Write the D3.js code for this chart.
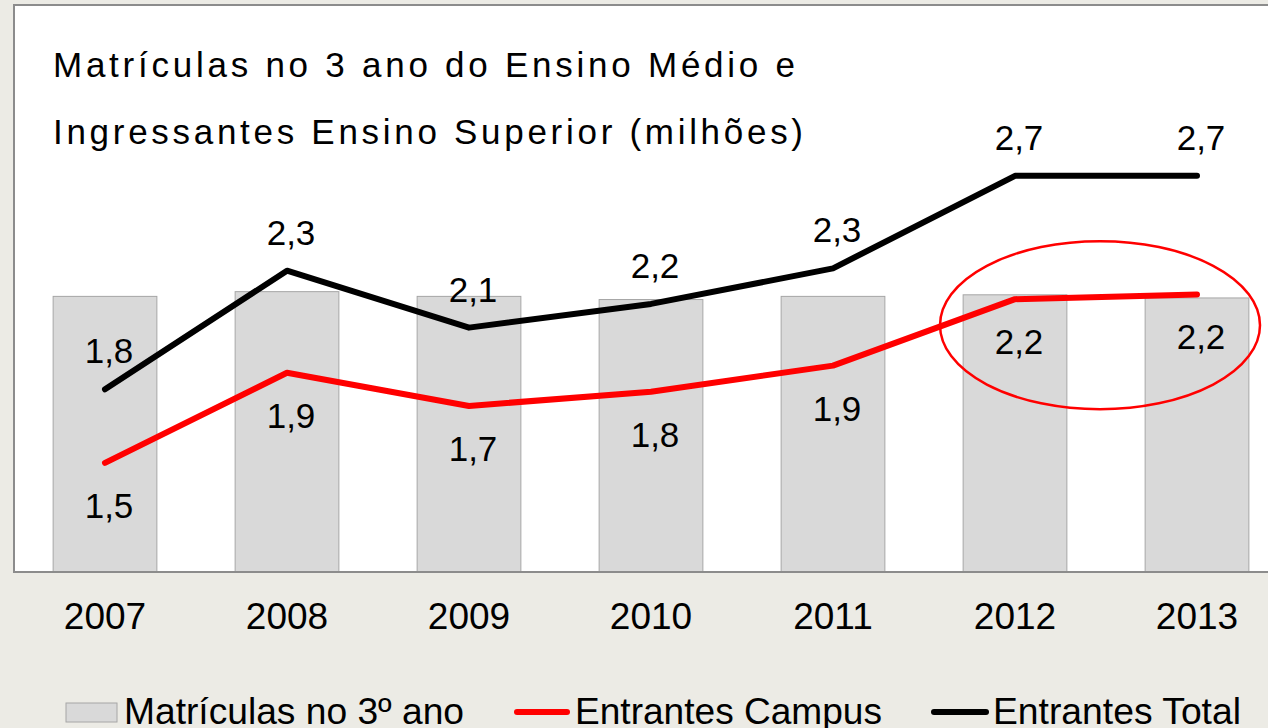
<!DOCTYPE html>
<html>
<head>
<meta charset="utf-8">
<script src="https://cdn.jsdelivr.net/npm/d3@7"></script>
<style>
  body { margin: 0; background: #ecebe5; }
  svg { display: block; font-family: "Liberation Sans", Arial, sans-serif; }
</style>
</head>
<body>
<div id="chart"></div>
<script>
// chart data
var years = ["2007", "2008", "2009", "2010", "2011", "2012", "2013"];
var matriculas = [1.75, 1.78, 1.75, 1.73, 1.75, 1.76, 1.74];
var entrantesTotal = [1.8, 2.3, 2.06, 2.16, 2.31, 2.7, 2.7];
var entrantesCampus = [1.49, 1.87, 1.73, 1.79, 1.9, 2.18, 2.2];
var titleLines = ["Matrículas no 3 ano do Ensino Médio e", "Ingressantes Ensino Superior (milhões)"];
var legendNames = ["Matrículas no 3º ano", "Entrantes Campus", "Entrantes Total"];

var svgWidth = 1268;
var svgHeight = 728;

// plot frame
var plot = { left: 14, top: 5, right: 1290, bottom: 572 };

var svg = d3.select("#chart")
  .append("svg")
  .attr("width", svgWidth)
  .attr("height", svgHeight);

svg.append("rect")
  .attr("width", svgWidth)
  .attr("height", svgHeight)
  .attr("fill", "#ecebe5");

svg.append("rect")
  .attr("x", plot.left)
  .attr("y", plot.top)
  .attr("width", plot.right - plot.left)
  .attr("height", plot.bottom - plot.top)
  .attr("fill", "#ffffff")
  .attr("stroke", "#8c8c8c")
  .attr("stroke-width", 2);

// scales
var xScale = d3.scaleBand()
  .domain(years)
  .range([plot.left, plot.left + 7 * 182])
  .paddingInner(0.43)
  .paddingOuter(0.215);

var barScale = d3.scaleLinear()
  .domain([0, 3.6])
  .range([plot.bottom, plot.top]);

var lineScale = d3.scaleLinear()
  .domain([1.03, 3.42])
  .range([plot.bottom, plot.top]);

var fmt = function (v) { return d3.format(".1f")(v).replace(".", ","); };
var cx = function (i) { return xScale(years[i]) + xScale.bandwidth() / 2; };

// bars
svg.selectAll("rect.bar")
  .data(matriculas)
  .enter()
  .append("rect")
  .attr("class", "bar")
  .attr("x", (d, i) => xScale(years[i]))
  .attr("y", d => barScale(d))
  .attr("width", xScale.bandwidth())
  .attr("height", d => plot.bottom - barScale(d))
  .attr("fill", "#d9d9d9")
  .attr("stroke", "#a6a6a6")
  .attr("stroke-width", 1);

// frame bottom on top of bars
svg.append("line")
  .attr("x1", plot.left).attr("x2", plot.right)
  .attr("y1", plot.bottom).attr("y2", plot.bottom)
  .attr("stroke", "#8c8c8c")
  .attr("stroke-width", 2);

// x axis labels
var xAxis = d3.axisBottom(xScale).tickSize(0).tickPadding(31);
var gx = svg.append("g")
  .attr("transform", `translate(0, ${plot.bottom})`)
  .call(xAxis);
gx.select(".domain").remove();
gx.selectAll("text")
  .attr("font-size", 37)
  .attr("font-family", "Liberation Sans, Arial, sans-serif")
  .attr("fill", "#000");

// lines
var line = d3.line()
  .x((d, i) => cx(i))
  .y(d => lineScale(d));

svg.append("path")
  .datum(entrantesTotal)
  .attr("d", line)
  .attr("fill", "none")
  .attr("stroke", "#000000")
  .attr("stroke-width", 6)
  .attr("stroke-linecap", "round")
  .attr("stroke-linejoin", "round");

svg.append("path")
  .datum(entrantesCampus)
  .attr("d", line)
  .attr("fill", "none")
  .attr("stroke", "#ff0000")
  .attr("stroke-width", 6)
  .attr("stroke-linecap", "round")
  .attr("stroke-linejoin", "round");

// value labels
svg.selectAll("text.totalLabel")
  .data(entrantesTotal)
  .enter()
  .append("text")
  .attr("x", (d, i) => cx(i) + 4)
  .attr("y", d => lineScale(d) - 26)
  .attr("text-anchor", "middle")
  .attr("font-size", 35)
  .text(d => fmt(d));

svg.selectAll("text.campusLabel")
  .data(entrantesCampus)
  .enter()
  .append("text")
  .attr("x", (d, i) => cx(i) + 4)
  .attr("y", d => lineScale(d) + 55)
  .attr("text-anchor", "middle")
  .attr("font-size", 35)
  .text(d => fmt(d));

// highlight ellipse around 2012-2013
svg.append("ellipse")
  .attr("cx", (cx(5) + cx(6)) / 2 - 6)
  .attr("cy", lineScale(entrantesCampus[5]) + 26)
  .attr("rx", 160)
  .attr("ry", 84)
  .attr("fill", "none")
  .attr("stroke", "#ff0000")
  .attr("stroke-width", 2.5);

// title
svg.selectAll("text.title")
  .data(titleLines)
  .enter()
  .append("text")
  .attr("x", 53)
  .attr("y", (d, i) => 77 + i * 67)
  .attr("font-size", 35)
  .attr("textLength", (d, i) => [742, 750][i])
  .attr("lengthAdjust", "spacing")
  .text(d => d);

// legend
var legend = svg.append("g");
legend.append("rect")
  .attr("x", 66).attr("y", 703)
  .attr("width", 51).attr("height", 19)
  .attr("fill", "#d9d9d9")
  .attr("stroke", "#a6a6a6");
legend.append("line")
  .attr("x1", 517).attr("x2", 567)
  .attr("y1", 712).attr("y2", 712)
  .attr("stroke", "#ff0000").attr("stroke-width", 6)
  .attr("stroke-linecap", "round");
legend.append("line")
  .attr("x1", 934).attr("x2", 986)
  .attr("y1", 712).attr("y2", 712)
  .attr("stroke", "#000000").attr("stroke-width", 6)
  .attr("stroke-linecap", "round");

var legendX = [124, 575, 993];
var legendW = [340, 307, 248];
legend.selectAll("text")
  .data(legendNames)
  .enter()
  .append("text")
  .attr("x", (d, i) => legendX[i])
  .attr("y", 724)
  .attr("font-size", 37)
  .attr("textLength", (d, i) => legendW[i])
  .attr("lengthAdjust", "spacingAndGlyphs")
  .text(d => d);
</script>
</body>
</html>
